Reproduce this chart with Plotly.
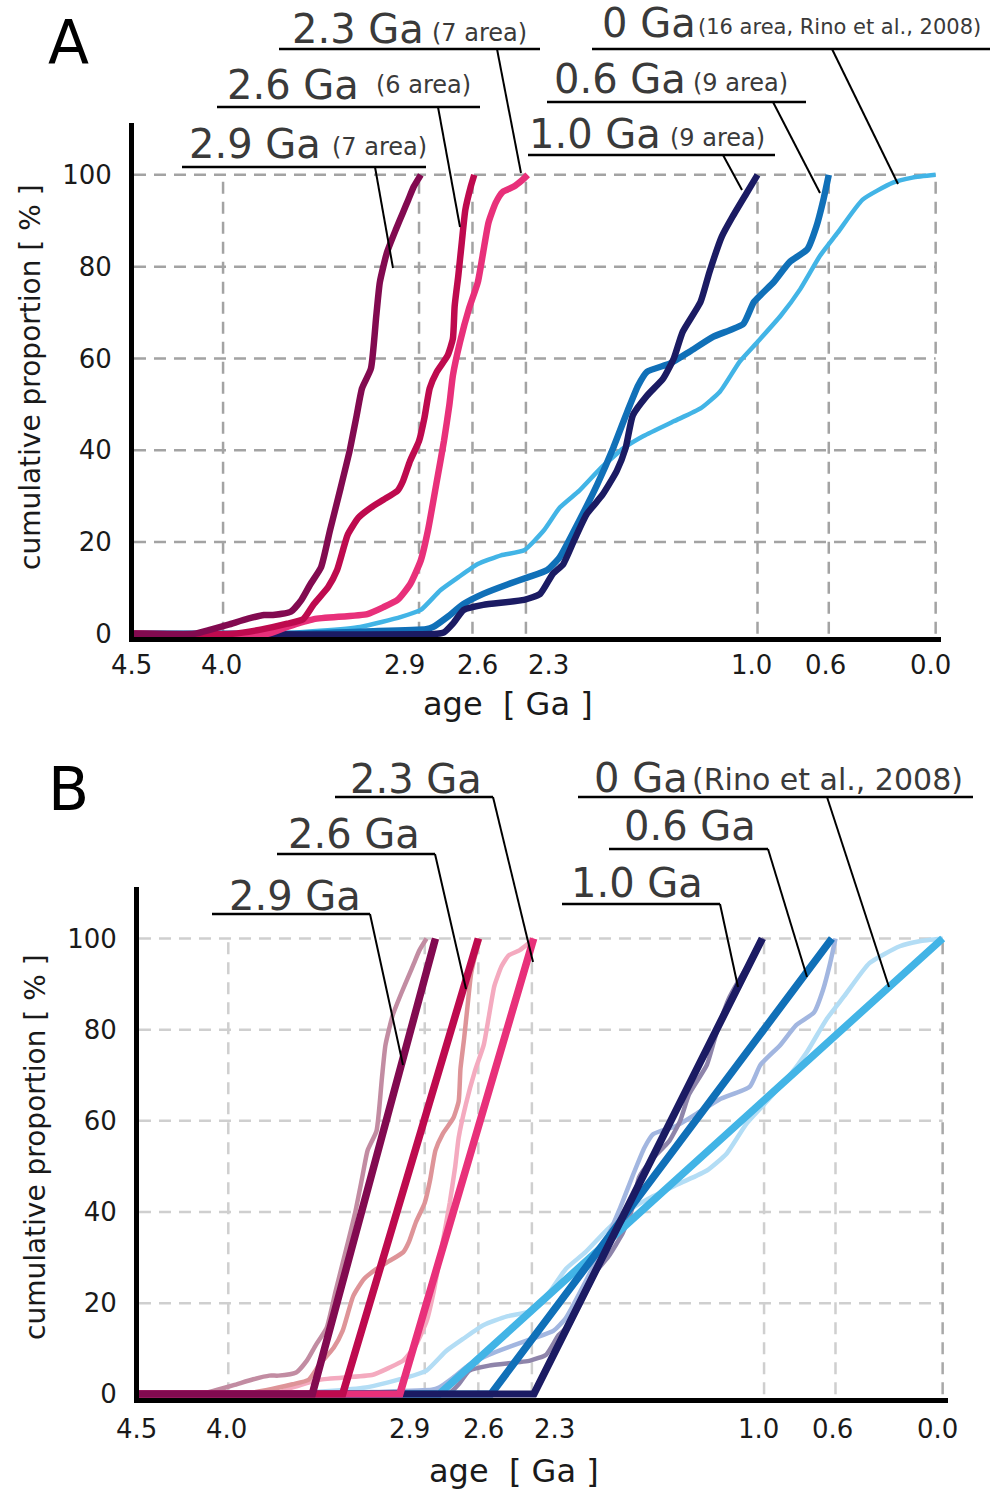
import plotly.graph_objects as go

# ---------------- data (age in Ga, cumulative proportion in %) ----------------
age_29 = [4.5, 4.16, 4.07, 3.97, 3.86, 3.77, 3.72, 3.62, 3.56, 3.51, 3.45, 3.40, 3.34, 3.29, 3.25, 3.22,
          3.17, 3.14, 3.12, 3.08, 3.03, 2.99, 2.96, 2.93, 2.89]
cum_29 = [0, 0, 0.9, 2, 3.3, 4.1, 4.1, 4.8, 7.4, 10.8, 14.5, 22.5, 31.8, 39.8, 47.6, 53.5,
          57.8, 69.3, 76.6, 83.1, 88.1, 91.8, 94.6, 97.4, 100]

age_26 = [4.5, 3.95, 3.79, 3.64, 3.55, 3.49, 3.41, 3.36, 3.30, 3.24, 3.17, 3.10, 3.02, 2.99, 2.95, 2.90,
          2.87, 2.84, 2.80, 2.74, 2.71, 2.70, 2.68, 2.66, 2.64, 2.61, 2.59]
cum_26 = [0, 0, 0.9, 2.2, 3.2, 6.5, 10.2, 13.9, 21.6, 25.3, 27.5, 29.2, 31.2, 33.3, 37.7, 42,
          47, 53.5, 57.1, 60.6, 64.3, 71.4, 77.9, 85.3, 92.4, 97.4, 100]

age_23 = [4.5, 3.75, 3.64, 3.49, 3.19, 3.10, 3.02, 2.95, 2.89, 2.85, 2.80, 2.76, 2.73, 2.71, 2.67, 2.62,
          2.57, 2.54, 2.51, 2.47, 2.43, 2.37, 2.32, 2.29]
cum_23 = [0, 0, 1.5, 3.2, 4.3, 5.8, 7.4, 10.8, 16, 22.5, 33.3, 42, 49.8, 56.3, 63.6, 70.8,
          76.6, 83.1, 89.6, 93.9, 96.3, 97.4, 98.9, 100]

age_10 = [4.5, 2.80, 2.76, 2.71, 2.65, 2.54, 2.31, 2.22, 2.15, 2.09, 2.03, 1.96, 1.87, 1.79, 1.74, 1.70, 1.62,
          1.53, 1.47, 1.42, 1.32, 1.27, 1.20, 1.14, 1.06, 1.00]
cum_10 = [0, 0, 0.3, 2.2, 5.2, 6.3, 7.4, 8.7, 13, 15.2, 20.3, 26, 30.3, 35.5, 40.5, 47.6, 51.9,
          55.6, 60, 65.8, 72.3, 78.8, 86.6, 90.9, 96.1, 100]

age_06 = [4.5, 3.6, 3.2, 2.86, 2.82, 2.74, 2.65, 2.54, 2.40, 2.29, 2.18, 2.11, 2.0, 1.90, 1.81, 1.73, 1.67,
          1.62, 1.49, 1.38, 1.25, 1.08, 1.02, 0.91, 0.82, 0.72, 0.67, 0.63, 0.60]
cum_06 = [0, 0, 0.5, 1.0, 1.5, 3.7, 6.5, 8.7, 10.8, 12.3, 13.9, 16.7, 24.7, 32.5, 40.5, 48.5, 54.1,
          57.1, 58.9, 61.5, 64.7, 67.5, 72.3, 76.6, 81, 83.8, 88.7, 94.6, 100]

age_00 = [4.5, 3.7, 3.23, 3.0, 2.89, 2.78, 2.68, 2.57, 2.44, 2.31, 2.20, 2.11, 2.0, 1.88, 1.75, 1.64,
          1.47, 1.32, 1.21, 1.10, 1.00, 0.87, 0.76, 0.65, 0.55, 0.41, 0.24, 0.13, 0.0]
cum_00 = [0, 0, 1.5, 3.7, 5.2, 9.5, 12.3, 15.2, 17.1, 18.2, 22.5, 27.5, 31.2, 36.1, 40.5, 43.1,
          46.3, 49.1, 52.8, 59.3, 63.6, 69.3, 75.1, 82.3, 87.4, 94.6, 98.3, 99.4, 100]

# panel B straight-line approximations: [start of x-axis, onset, end]
fit_age_29 = [4.5, 3.53, 2.84]
fit_age_26 = [4.5, 3.36, 2.60]
fit_age_23 = [4.5, 3.04, 2.29]
fit_age_10 = [4.5, 2.29, 1.01]
fit_age_06 = [4.5, 2.53, 0.62]
fit_age_00 = [4.5, 2.82, 0.0]
fit_cum = [0, 0, 100]

x_ticks = [4.5, 4.0, 2.9, 2.6, 2.3, 1.0, 0.6, 0.0]
x_ticktext = ["4.5", "4.0", "2.9", "2.6", "2.3", "1.0", "0.6", "0.0"]
x_grid = [4.0, 2.9, 2.6, 2.3, 1.0, 0.6, 0.0]
y_ticks = [0, 20, 40, 60, 80, 100]

# ---------------- styling ----------------
W, H = 992, 1494
FONT = "DejaVu Sans"
TXT = "#3a3a3a"
TICKC = "#1a1a1a"
# pixel nudges of the x tick labels (the original spreads 2.9 / 2.6 / 2.3 apart)
tick_label_nudge = [-3, -2, -15, 5, 23, -6, -3, -5]

def X(p):
    return p / W

def Y(p):
    return 1 - p / H

c29, c26, c23 = "#820A50", "#BE0A4E", "#E8307A"
c10, c06, c00 = "#1B1B63", "#1070B8", "#42B4E6"
f29, f26, f23 = "#C28CA2", "#DE9498", "#F4AABF"
f10, f06, f00 = "#8E84AA", "#A2B6E0", "#B3DDF5"

# draw order: youngest first so the oldest sits on top
seriesA = [
    ("0 Ga", age_00, cum_00, c00, f00, 4.5, fit_age_00),
    ("0.6 Ga", age_06, cum_06, c06, f06, 6.5, fit_age_06),
    ("1.0 Ga", age_10, cum_10, c10, f10, 6.5, fit_age_10),
    ("2.3 Ga", age_23, cum_23, c23, f23, 6.5, fit_age_23),
    ("2.6 Ga", age_26, cum_26, c26, f26, 6.5, fit_age_26),
    ("2.9 Ga", age_29, cum_29, c29, f29, 6.5, fit_age_29),
]

fig = go.Figure()

# Panel A
for name, ax_, cy, col, fcol, lw, fit in seriesA:
    fig.add_trace(go.Scatter(x=ax_, y=cy, mode="lines", name=name,
                             line=dict(color=col, width=lw, shape="spline", smoothing=0.5),
                             xaxis="x", yaxis="y", showlegend=False, hoverinfo="skip"))

# Panel B: faded data curves
for name, ax_, cy, col, fcol, lw, fit in seriesA:
    fig.add_trace(go.Scatter(x=ax_, y=cy, mode="lines", name=name,
                             line=dict(color=fcol, width=4.5, shape="spline", smoothing=0.5),
                             xaxis="x2", yaxis="y2", showlegend=False, hoverinfo="skip"))
# Panel B: straight lines
for name, ax_, cy, col, fcol, lw, fit in seriesA:
    fig.add_trace(go.Scatter(x=fit, y=fit_cum, mode="lines", name=name,
                             line=dict(color=col, width=7.5),
                             xaxis="x2", yaxis="y2", showlegend=False, hoverinfo="skip"))

shapes = []
# gridlines
for xr, yr, gcol in (("x", "y", "#a3a3a3"), ("x2", "y2", "#cfcfcf")):
    for yv in y_ticks[1:]:
        shapes.append(dict(type="line", xref=xr, yref=yr, x0=4.5, x1=0.0, y0=yv, y1=yv,
                           line=dict(color=gcol, width=2.5, dash="12px,8px"), layer="below"))
    for xv in x_grid:
        c = gcol if not (xr == "x2" and xv == 0.0) else "#a8a8a8"
        shapes.append(dict(type="line", xref=xr, yref=yr, x0=xv, x1=xv, y0=0, y1=100,
                           line=dict(color=c, width=2.5, dash="12px,8px"), layer="below"))

annotations = []

def label(big, small, left, base, small_left=None, small_base=None, bigsize=40, smallsize=24):
    annotations.append(dict(text=big, x=X(left), y=Y(base - 0.35 * bigsize), xref="paper", yref="paper",
                            xanchor="left", yanchor="middle", showarrow=False,
                            font=dict(family=FONT, size=bigsize, color=TXT)))
    if small:
        annotations.append(dict(text=small, x=X(small_left), y=Y(small_base - 0.35 * smallsize),
                                xref="paper", yref="paper", xanchor="left", yanchor="middle",
                                showarrow=False, font=dict(family=FONT, size=smallsize, color=TXT)))

def seg(x0, y0, x1, y1, w=2.5):
    shapes.append(dict(type="line", xref="paper", yref="paper", x0=X(x0), y0=Y(y0), x1=X(x1), y1=Y(y1),
                       line=dict(color="black", width=w)))

# Panel A labels
label("2.3 Ga", "(7 area)", 290, 43, 430, 41)
seg(279, 49, 540, 49); seg(497, 49, 521, 173, 2)
label("2.6 Ga", "(6 area)", 225, 99, 374, 93)
seg(217, 107, 480, 107); seg(438, 107, 460, 227, 2)
label("2.9 Ga", "(7 area)", 187, 158, 330, 155)
seg(182, 167, 426, 167); seg(375, 167, 393, 268, 2)
label("0 Ga", "(16 area, Rino et al., 2008)", 600, 37, 696, 34, smallsize=21)
seg(592, 49, 990, 49); seg(832, 49, 898, 184, 2)
label("0.6 Ga", "(9 area)", 552, 93, 691, 91)
seg(547, 102, 806, 102); seg(773, 102, 820, 193, 2)
label("1.0 Ga", "(9 area)", 527, 148, 668, 146)
seg(528, 155, 775, 155); seg(723, 155, 742, 190, 2)

# Panel B labels
label("2.3 Ga", None, 348, 793)
seg(335, 797, 493, 797); seg(493, 797, 533, 962, 2)
label("2.6 Ga", None, 286, 848)
seg(277, 854, 435, 854); seg(435, 854, 466, 989, 2)
label("2.9 Ga", None, 227, 910)
seg(212, 914, 370, 914); seg(370, 914, 403, 1065, 2)
label("0 Ga", "(Rino et al., 2008)", 592, 792, 690, 790, smallsize=30)
seg(578, 797, 973, 797); seg(827, 797, 889, 987, 2)
label("0.6 Ga", None, 622, 840)
seg(609, 849, 768, 849); seg(768, 849, 807, 977, 2)
label("1.0 Ga", None, 569, 897)
seg(562, 904, 720, 904); seg(720, 904, 738, 987, 2)

# Panel letters
for t, base in (("A", 63), ("B", 810)):
    annotations.append(dict(text=t, x=X(46), y=Y(base - 0.35 * 60), xref="paper", yref="paper",
                            xanchor="left", yanchor="middle", showarrow=False,
                            font=dict(family=FONT, size=60, color="black")))

# x tick labels (placed on the axis values, nudged like the original)
for xr, ty in (("x", 665), ("x2", 1429)):
    for v, t, dx in zip(x_ticks, x_ticktext, tick_label_nudge):
        annotations.append(dict(text=t, x=v, xref=xr, y=Y(ty), yref="paper", xshift=dx,
                                xanchor="center", yanchor="middle", showarrow=False,
                                font=dict(family=FONT, size=26, color=TICKC)))

# Axis titles
for cx, cy in ((508, 704), (514, 1471)):
    annotations.append(dict(text="age\u00a0\u00a0[\u00a0Ga\u00a0]", x=X(cx), y=Y(cy), xref="paper", yref="paper",
                            xanchor="center", yanchor="middle", showarrow=False,
                            font=dict(family=FONT, size=32, color=TICKC)))
for cx, cy in ((30, 377), (35, 1147)):
    annotations.append(dict(text="cumulative proportion [ % ]", x=X(cx), y=Y(cy), xref="paper", yref="paper",
                            xanchor="center", yanchor="middle", showarrow=False, textangle=-90,
                            font=dict(family=FONT, size=28, color=TICKC)))

axis_common = dict(showgrid=False, zeroline=False, showline=True, linewidth=5, linecolor="black",
                   ticks="", layer="below traces", tickfont=dict(family=FONT, size=26, color=TICKC),
                   fixedrange=True, automargin=False)

fig.update_layout(
    width=W, height=H, margin=dict(l=0, r=0, t=0, b=0, autoexpand=False),
    paper_bgcolor="white", plot_bgcolor="white", showlegend=False,
    xaxis=dict(domain=[X(134), X(941)], range=[4.5, -0.03], anchor="y",
               tickvals=x_ticks, showticklabels=False, **axis_common),
    yaxis=dict(domain=[Y(637), Y(123)], range=[-0.7, 111.3], anchor="x",
               tickvals=y_ticks, ticklabelstandoff=12, **axis_common),
    xaxis2=dict(domain=[X(139), X(948)], range=[4.5, -0.03], anchor="y2",
                tickvals=x_ticks, showticklabels=False, **axis_common),
    yaxis2=dict(domain=[Y(1397.5), Y(887)], range=[-0.7, 111.3], anchor="x2",
                tickvals=y_ticks, ticklabelstandoff=12, **axis_common),
    shapes=shapes, annotations=annotations,
)

fig.write_html("out.html")
